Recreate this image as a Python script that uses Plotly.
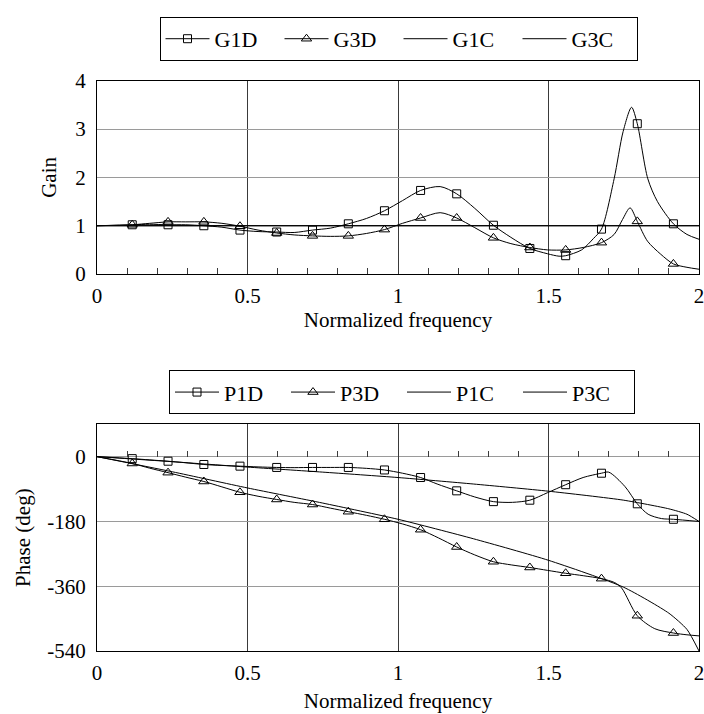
import plotly.graph_objects as go

# ---------------- data ----------------
# normalized frequencies at which the discrete (D) results are marked
sample_freq = [0.117, 0.236, 0.355, 0.475, 0.597, 0.716, 0.835, 0.955,
               1.075, 1.195, 1.317, 1.438, 1.557, 1.676, 1.795, 1.915]

# Gain chart
g1d_marks = [1.02, 1.02, 1.00, 0.91, 0.87, 0.91, 1.04, 1.31,
             1.73, 1.66, 1.01, 0.53, 0.38, 0.93, 3.11, 1.04]
g1d_curve_x = [0.0, 0.175, 0.295, 0.415, 0.535, 0.655, 0.775, 0.895, 1.015,
               1.14, 1.255, 1.375, 1.497, 1.535, 1.61, 1.65, 1.718, 1.748,
               1.776, 1.83, 1.862, 1.96, 2.0]
g1d_curve_y = [1.00, 1.03, 1.02, 0.97, 0.88, 0.86, 0.95, 1.15, 1.52,
               1.81, 1.36, 0.76, 0.42, 0.37, 0.50, 0.74, 1.97, 2.95,
               3.45, 1.97, 1.50, 0.82, 0.72]

g3d_marks = [1.02, 1.08, 1.08, 0.99, 0.85, 0.79, 0.79, 0.92,
             1.16, 1.16, 0.75, 0.55, 0.50, 0.65, 1.09, 0.21]
g3d_curve_x = [0.0, 0.175, 0.295, 0.415, 0.535, 0.655, 0.775, 0.895, 1.015,
               1.14, 1.255, 1.375, 1.497, 1.615, 1.718, 1.746, 1.771, 1.829,
               1.873, 1.96, 2.0]
g3d_curve_y = [1.00, 1.05, 1.08, 1.05, 0.91, 0.81, 0.78, 0.84, 1.05,
               1.27, 0.96, 0.63, 0.50, 0.55, 0.82, 1.13, 1.37, 0.68,
               0.41, 0.14, 0.10]

gc_x = [0.0, 2.0]
g1c_y = [1.0, 1.0]
g3c_y = [1.0, 1.0]

# Phase chart
p1d_marks = [-5.5, -12.7, -21.8, -26.4, -30, -30, -30, -37,
             -58, -95, -125, -121, -78, -46, -131, -174]
p1d_curve_x = [0.0, 0.175, 0.295, 0.415, 0.535, 0.655, 0.775, 0.895, 1.015,
               1.13, 1.255, 1.38, 1.497, 1.615, 1.70, 1.754, 1.831, 1.875, 2.0]
p1d_curve_y = [0, -9, -17, -24.5, -28.5, -30.5, -30, -32.5, -46,
               -76, -112, -127, -100, -58, -43, -83, -160, -172, -180]

p3d_marks = [-19, -44.5, -69, -99, -119, -133, -153, -174,
             -203, -251, -292, -308, -324, -339, -442, -490]
p3d_curve_x = [0.0, 0.175, 0.295, 0.415, 0.535, 0.655, 0.775, 0.895, 1.015,
               1.135, 1.255, 1.378, 1.497, 1.617, 1.72, 1.743, 1.853, 1.96, 2.0]
p3d_curve_y = [0, -32, -57, -84, -110, -127, -143, -163, -187,
               -226, -273, -301, -316, -331, -350, -365, -478, -495, -498]

pc_x = [0.0, 0.25, 0.5, 0.75, 1.0, 1.25, 1.5, 1.75, 1.9, 1.96, 2.0]
p1c_y = [0, -14, -29, -43, -58, -76, -96, -121, -145, -160, -180]
p3c_y = [0, -42, -87, -129, -174, -228, -288, -363, -435, -480, -540]

gain_ticks = [0, 1, 2, 3, 4]
gain_labels = ["0", "1", "2", "3", "4"]
phase_ticks = [0, -180, -360, -540]
phase_labels = ["0", "-180", "-360", "-540"]
freq_ticks = [0, 0.5, 1, 1.5, 2]
freq_labels = ["0", "0.5", "1", "1.5", "2"]

# ---------------- layout helpers ----------------
W, H = 704, 714
ML, MR, MT, MB = 97, 5, 0, 63
PH = H - MT - MB          # paper height in px
FONT = "'Liberation Serif', 'Times New Roman', Times, 'DejaVu Serif', serif"


def py(px):
    """pixel row (from top of figure) -> paper y fraction"""
    return (H - MB - px) / PH


def pxx(px):
    return (px - ML) / (W - ML - MR)


top_dom = [py(267), py(70)]
bot_dom = [py(651), py(420)]
phase_range = [-540, 90]


def merge(cx, cy, mx, my):
    pts = sorted(list(zip(cx, cy)) + list(zip(mx, my)), key=lambda p: p[0])
    return [p[0] for p in pts], [p[1] for p in pts]


fig = go.Figure()


def add_d_series(name, cx, cy, marks, symbol, size, xa, ya):
    x, y = merge(cx, cy, sample_freq, marks)
    fig.add_trace(go.Scatter(x=x, y=y, mode="lines", xaxis=xa, yaxis=ya,
                             line=dict(color="black", width=1, shape="spline", smoothing=0.8),
                             showlegend=False, legendgroup=name, hoverinfo="skip"))
    fig.add_trace(go.Scatter(x=sample_freq, y=marks, mode="markers", xaxis=xa, yaxis=ya,
                             marker=dict(symbol=symbol, size=size, color="black",
                                         line=dict(color="black", width=1)),
                             showlegend=False, legendgroup=name))


def add_legend_entry(name, with_marker, symbol, size, legend, rank):
    fig.add_trace(go.Scatter(x=[None], y=[None],
                             mode="lines+markers" if with_marker else "lines",
                             name=name, legend=legend, legendgroup=name, legendrank=rank,
                             line=dict(color="black", width=1),
                             marker=dict(symbol=symbol, size=size, color="black",
                                         line=dict(color="black", width=1))))


# gain
add_d_series("G1D", g1d_curve_x, g1d_curve_y, g1d_marks, "square-open", 8, "x", "y")
add_d_series("G3D", g3d_curve_x, g3d_curve_y, g3d_marks, "triangle-up-open", 9, "x", "y")
fig.add_trace(go.Scatter(x=gc_x, y=g1c_y, mode="lines", xaxis="x", yaxis="y",
                         line=dict(color="black", width=1), showlegend=False))
fig.add_trace(go.Scatter(x=gc_x, y=g3c_y, mode="lines", xaxis="x", yaxis="y",
                         line=dict(color="black", width=1), showlegend=False))
add_legend_entry("G1D", True, "square-open", 8, "legend", 1)
add_legend_entry("G3D", True, "triangle-up-open", 9, "legend", 2)
add_legend_entry("G1C", False, "square-open", 8, "legend", 3)
add_legend_entry("G3C", False, "square-open", 8, "legend", 4)

# phase
add_d_series("P1D", p1d_curve_x, p1d_curve_y, p1d_marks, "square-open", 8, "x2", "y2")
add_d_series("P3D", p3d_curve_x, p3d_curve_y, p3d_marks, "triangle-up-open", 9, "x2", "y2")
fig.add_trace(go.Scatter(x=pc_x, y=p1c_y, mode="lines", xaxis="x3", yaxis="y2",
                         line=dict(color="black", width=1, shape="spline", smoothing=0.6),
                         showlegend=False))
fig.add_trace(go.Scatter(x=pc_x, y=p3c_y, mode="lines", xaxis="x3", yaxis="y2",
                         line=dict(color="black", width=1, shape="spline", smoothing=0.6),
                         showlegend=False))
add_legend_entry("P1D", True, "square-open", 8, "legend2", 1)
add_legend_entry("P3D", True, "triangle-up-open", 9, "legend2", 2)
add_legend_entry("P1C", False, "square-open", 8, "legend2", 3)
add_legend_entry("P3C", False, "square-open", 8, "legend2", 4)

tickfont = dict(family=FONT, size=21, color="black")
titlefont = dict(family=FONT, size=21, color="black")

common_x = dict(range=[0, 2], tickvals=freq_ticks, ticktext=freq_labels,
                showgrid=True, gridcolor="#3a3a3a", gridwidth=1, zeroline=False,
                showline=True, mirror=True, linecolor="black", linewidth=1,
                tickfont=tickfont, ticklabelstandoff=3, ticklabeloverflow="allow",
                fixedrange=True)
common_y = dict(showgrid=True, gridcolor="#9a9a9a", gridwidth=1, zeroline=False,
                showline=True, mirror=True, linecolor="black", linewidth=1,
                ticks="", tickfont=tickfont, ticklabelstandoff=6, ticklabeloverflow="allow",
                fixedrange=True)

legend_common = dict(orientation="h", xanchor="center", yanchor="top",
                     bordercolor="black", borderwidth=1, bgcolor="white",
                     font=dict(family=FONT, size=22, color="black"),
                     entrywidthmode="pixels", itemwidth=44,
                     traceorder="normal")

bot_h = bot_dom[1] - bot_dom[0]
zero_pos = bot_dom[0] + (0 - phase_range[0]) / (phase_range[1] - phase_range[0]) * bot_h

fig.update_layout(
    width=W, height=H, autosize=False,
    margin=dict(l=ML, r=MR, t=MT, b=MB, pad=0),
    paper_bgcolor="white", plot_bgcolor="white",
    font=dict(family=FONT, size=21, color="black"),
    xaxis=dict(common_x, domain=[0, 1], anchor="y",
               ticks="inside", ticklen=6, tickcolor="#3a3a3a",
               minor=dict(dtick=0.1, tick0=0, ticks="inside", ticklen=6, tickcolor="#3a3a3a", showgrid=False),
               title=dict(text="Normalized frequency", font=titlefont, standoff=4)),
    yaxis=dict(common_y, domain=top_dom, anchor="x", range=[0, 4],
               tickvals=gain_ticks, ticktext=gain_labels,
               title=dict(text="Gain", font=titlefont, standoff=12)),
    xaxis2=dict(common_x, domain=[0, 1], anchor="y2", ticks="",
                title=dict(text="Normalized frequency", font=titlefont, standoff=9)),
    yaxis2=dict(common_y, domain=bot_dom, anchor="x2", range=phase_range,
                tickvals=phase_ticks, ticktext=phase_labels,
                title=dict(text="Phase (deg)", font=titlefont, standoff=10)),
    xaxis3=dict(overlaying="x2", anchor="free", position=zero_pos, range=[0, 2],
                tickvals=freq_ticks, showgrid=False, zeroline=False, showline=False,
                showticklabels=False, ticks="inside", ticklen=6, tickcolor="#3a3a3a",
                minor=dict(dtick=0.1, tick0=0, ticks="inside", ticklen=6, tickcolor="#3a3a3a", showgrid=False),
                fixedrange=True),
    legend=dict(legend_common, x=pxx(398.5), y=py(5), entrywidth=60),
    legend2=dict(legend_common, x=pxx(402), y=py(365), entrywidth=57),
    showlegend=True,
)

fig.write_html("out.html")
